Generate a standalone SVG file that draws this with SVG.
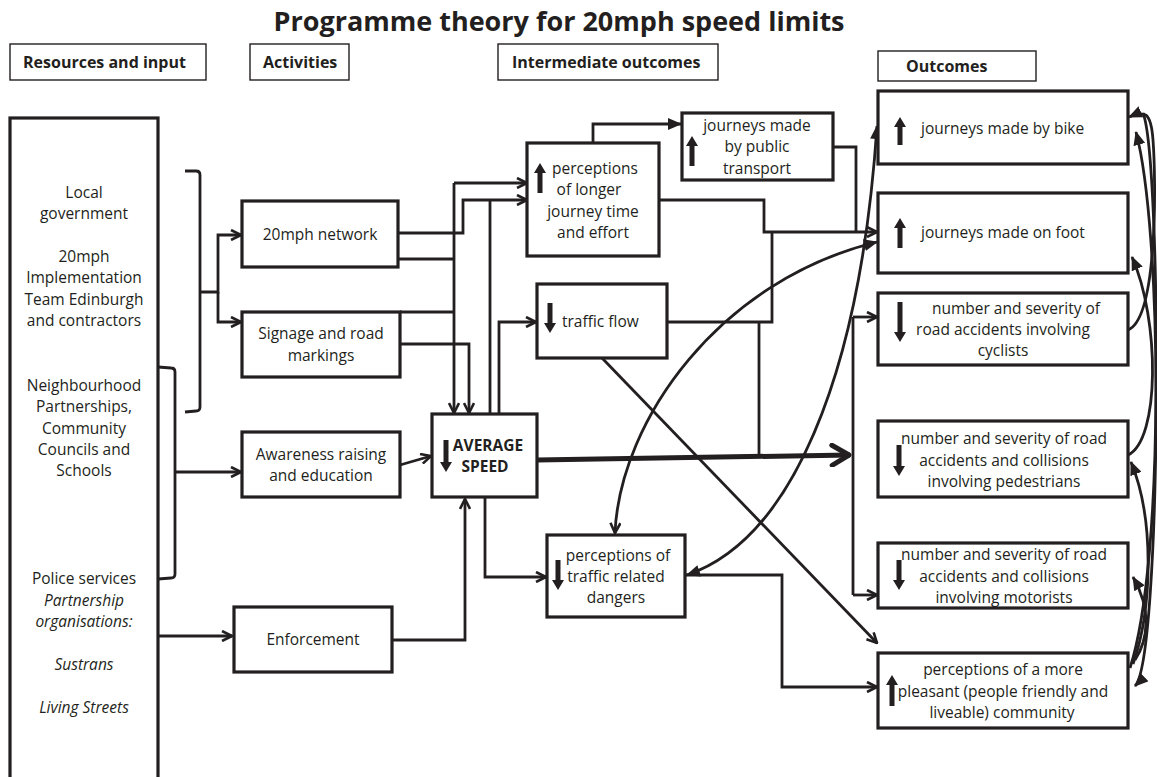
<svg xmlns="http://www.w3.org/2000/svg" width="1157" height="777" viewBox="0 0 1157 777">
<style>
text{font-family:"Open Sans","Liberation Sans",sans-serif;font-size:15.5px;fill:#231f20}
.c{text-anchor:middle}
.b{font-weight:bold}
.i{font-style:italic}
.h{font-weight:bold;font-size:16px}
.title{font-weight:bold;font-size:27px;text-anchor:middle}
.box{fill:#fff;stroke:#231f20;stroke-width:3.2}
.hbox{fill:#fff;stroke:#231f20;stroke-width:1.4}
.ar{fill:#231f20}
#connectors path{fill:none;stroke:#231f20;stroke-width:2.8;stroke-linejoin:miter}
#connectors .o{marker-end:url(#ao)}
#connectors .f{marker-end:url(#af)}
#connectors .ff{marker-start:url(#af);marker-end:url(#af)}
</style>
<defs>
<marker id="ao" viewBox="0 0 12 12" refX="11" refY="6" markerWidth="12" markerHeight="12" markerUnits="userSpaceOnUse" orient="auto-start-reverse"><path d="M1,1 L11,6 L1,11" fill="none" stroke="#231f20" stroke-width="2.6"/></marker>
<marker id="af" viewBox="0 0 14 12" refX="13" refY="6" markerWidth="14" markerHeight="12" markerUnits="userSpaceOnUse" orient="auto-start-reverse"><path d="M0,0 L14,6 L0,12 Z" fill="#231f20"/></marker>
<marker id="abig" viewBox="0 0 24 24" refX="21" refY="12" markerWidth="24" markerHeight="24" markerUnits="userSpaceOnUse" orient="auto"><path d="M3,2 L20,12 L3,22" fill="none" stroke="#231f20" stroke-width="5" stroke-linecap="round" stroke-linejoin="round"/></marker>
</defs>

<text class="title" x="559" y="31">Programme theory for 20mph speed limits</text>

<g id="headers">
<rect class="hbox" x="10" y="44" width="196" height="36"/><text class="h" x="23" y="68">Resources and input</text>
<rect class="hbox" x="250" y="44" width="99" height="36"/><text class="h" x="263" y="68">Activities</text>
<rect class="hbox" x="498" y="44" width="220" height="36"/><text class="h" x="512" y="68">Intermediate outcomes</text>
<rect class="hbox" x="878" y="51" width="158" height="30"/><text class="h" x="906" y="72">Outcomes</text>
</g>

<g id="connectors">
<path d="M185,171 L196,171 Q200,171 200,175 L200,407 Q200,411 196,411 L185,412"/>
<path class="o" d="M200,292 L218,292 L218,235 L241,235"/>
<path class="o" d="M218,292 L218,322 L241,322"/>
<path d="M158,367 L171,368 Q175,368 175,372 L175,574 Q175,578 171,578 L158,579"/>
<path class="o" d="M175,472 L241,472"/>
<path class="o" d="M158,636 L232,636"/>
<path class="o" d="M400,465 L431,456"/>
<path class="o" d="M392,640 L465,640 L465,499"/>
<path d="M398,259 L454,259"/>
<path d="M400,312 L454,312"/>
<path class="o" d="M454,183 L454,413"/>
<path class="o" d="M454,183 L527,183"/>
<path class="o" d="M398,233 L463,233 L463,200 L527,200"/>
<path d="M490,414 L490,200"/>
<path class="o" d="M400,344 L469,344 L469,413"/>
<path class="o" d="M499,414 L499,322 L536,322"/>
<path class="o" d="M485,497 L485,577 L546,577"/>
<path d="M537,460 L850,455" style="stroke-width:5;marker-end:url(#abig)"/>
<path d="M853,317 L853,595"/>
<path class="o" d="M853,317 L877,317"/>
<path class="o" d="M853,595 L877,595"/>
<path d="M667,322 L772,322 L772,232"/>
<path d="M759,322 L759,456"/>
<path class="o" d="M659,200 L764,200 L764,232 L877,232"/>
<path d="M833,147 L856,147 L856,232"/>
<path class="f" d="M593,143 L593,124 L681,124"/>
<path class="o" d="M602,358 L877,643"/>
<path class="o" d="M685,575 L782,575 L782,687 L877,687"/>
<path class="ff" d="M687,575 C790,540 860,380 877,126"/>
<path d="M615,533 C620,420 720,280 877,242" style="marker-start:url(#ao);marker-end:url(#af)"/>
<path class="f" d="M1128,330 C1158,318 1156,180 1153,140 C1151,112 1145,110 1129,117"/>
<path class="f" d="M1130,668 C1165,560 1162,230 1136,132"/>
<path class="f" d="M1143,113 C1162,160 1162,660 1135,686"/>
<path class="f" d="M1128,455 C1160,440 1160,320 1132,257"/>
<path class="f" d="M1133,664 C1152,610 1155,520 1131,462"/>
<path class="f" d="M1135,660 C1148,640 1152,610 1133,577"/>
</g>

<g id="resources">
<rect class="box" x="10" y="118" width="148" height="700"/>
<text class="c" x="84" y="198">Local</text>
<text class="c" x="84" y="219">government</text>
<text class="c" x="84" y="262">20mph</text>
<text class="c" x="84" y="283">Implementation</text>
<text class="c" x="84" y="305">Team Edinburgh</text>
<text class="c" x="84" y="326">and contractors</text>
<text class="c" x="84" y="391">Neighbourhood</text>
<text class="c" x="84" y="412">Partnerships,</text>
<text class="c" x="84" y="434">Community</text>
<text class="c" x="84" y="455">Councils and</text>
<text class="c" x="84" y="476">Schools</text>
<text class="c" x="84" y="584">Police services</text>
<text class="c i" x="84" y="606">Partnership</text>
<text class="c i" x="84" y="627">organisations:</text>
<text class="c i" x="84" y="670">Sustrans</text>
<text class="c i" x="84" y="713">Living Streets</text>
</g>

<g id="network20">
<rect class="box" x="242" y="201" width="156" height="66"/>
<text class="c" x="320" y="240">20mph network</text>
</g>
<g id="signage">
<rect class="box" x="242" y="312" width="158" height="65"/>
<text class="c" x="321" y="339">Signage and road</text>
<text class="c" x="321" y="361">markings</text>
</g>
<g id="awareness">
<rect class="box" x="242" y="432" width="158" height="65"/>
<text class="c" x="321" y="460">Awareness raising</text>
<text class="c" x="321" y="481">and education</text>
</g>
<g id="enforcement">
<rect class="box" x="234" y="607" width="158" height="65"/>
<text class="c" x="313" y="645">Enforcement</text>
</g>

<g id="avgspeed">
<rect class="box" x="432" y="414" width="105" height="83"/>
<path class="ar" d="M446,472 L452,462 L448.5,462 L448.5,440 L443.5,440 L443.5,462 L440,462 Z"/>
<text class="c b" x="488" y="451">AVERAGE</text>
<text class="c b" x="485" y="472">SPEED</text>
</g>

<g id="journeytime">
<rect class="box" x="527" y="143" width="132" height="113"/>
<path class="ar" d="M540,163 L546,173 L542.5,173 L542.5,193 L537.5,193 L537.5,173 L534,173 Z"/>
<text class="c" x="595" y="174">perceptions</text>
<text class="c" x="589" y="195">of longer</text>
<text class="c" x="593" y="217">journey time</text>
<text class="c" x="593" y="238">and effort</text>
</g>

<g id="publictransport">
<rect class="box" x="682" y="113" width="151" height="67"/>
<path class="ar" d="M692,136 L698,146 L694.5,146 L694.5,166 L689.5,166 L689.5,146 L686,146 Z"/>
<text class="c" x="757" y="131">journeys made</text>
<text class="c" x="757" y="152">by public</text>
<text class="c" x="757" y="174">transport</text>
</g>

<g id="trafficflow">
<rect class="box" x="537" y="284" width="130" height="74"/>
<path class="ar" d="M550,333 L556,323 L552.5,323 L552.5,303 L547.5,303 L547.5,323 L544,323 Z"/>
<text x="562" y="327">traffic flow</text>
</g>

<g id="dangers">
<rect class="box" x="547" y="535" width="138" height="82"/>
<path class="ar" d="M558,590 L564,580 L560.5,580 L560.5,560 L555.5,560 L555.5,580 L552,580 Z"/>
<text class="c" x="618" y="561">perceptions of</text>
<text class="c" x="616" y="582">traffic related</text>
<text class="c" x="616" y="603">dangers</text>
</g>

<g id="bike">
<rect class="box" x="878" y="91" width="250" height="73"/>
<path class="ar" d="M900,117 L906,127 L902.5,127 L902.5,145 L897.5,145 L897.5,127 L894,127 Z"/>
<text x="921" y="134">journeys made by bike</text>
</g>
<g id="foot">
<rect class="box" x="878" y="193" width="250" height="80"/>
<path class="ar" d="M900,218 L906,228 L902.5,228 L902.5,248 L897.5,248 L897.5,228 L894,228 Z"/>
<text x="921" y="238">journeys made on foot</text>
</g>
<g id="cyclists">
<rect class="box" x="878" y="293" width="250" height="72"/>
<path class="ar" d="M900,342 L906,332 L902.5,332 L902.5,302 L897.5,302 L897.5,332 L894,332 Z"/>
<text class="c" x="1016" y="314">number and severity of</text>
<text class="c" x="1003" y="335">road accidents involving</text>
<text class="c" x="1003" y="356">cyclists</text>
</g>
<g id="pedestrians">
<rect class="box" x="878" y="421" width="250" height="76"/>
<path class="ar" d="M899,476 L905,466 L901.5,466 L901.5,445 L896.5,445 L896.5,466 L893,466 Z"/>
<text class="c" x="1004" y="444">number and severity of road</text>
<text class="c" x="1004" y="466">accidents and collisions</text>
<text class="c" x="1004" y="487">involving pedestrians</text>
</g>
<g id="motorists">
<rect class="box" x="878" y="543" width="250" height="65"/>
<path class="ar" d="M899,590 L905,580 L901.5,580 L901.5,560 L896.5,560 L896.5,580 L893,580 Z"/>
<text class="c" x="1004" y="560">number and severity of road</text>
<text class="c" x="1004" y="582">accidents and collisions</text>
<text class="c" x="1004" y="603">involving motorists</text>
</g>
<g id="pleasant">
<rect class="box" x="878" y="653" width="250" height="75"/>
<path class="ar" d="M892,675 L898,685 L894.5,685 L894.5,706 L889.5,706 L889.5,685 L886,685 Z"/>
<text class="c" x="1003" y="675">perceptions of a more</text>
<text class="c" x="1003" y="697">pleasant (people friendly and</text>
<text class="c" x="1002" y="718">liveable) community</text>
</g>
</svg>
